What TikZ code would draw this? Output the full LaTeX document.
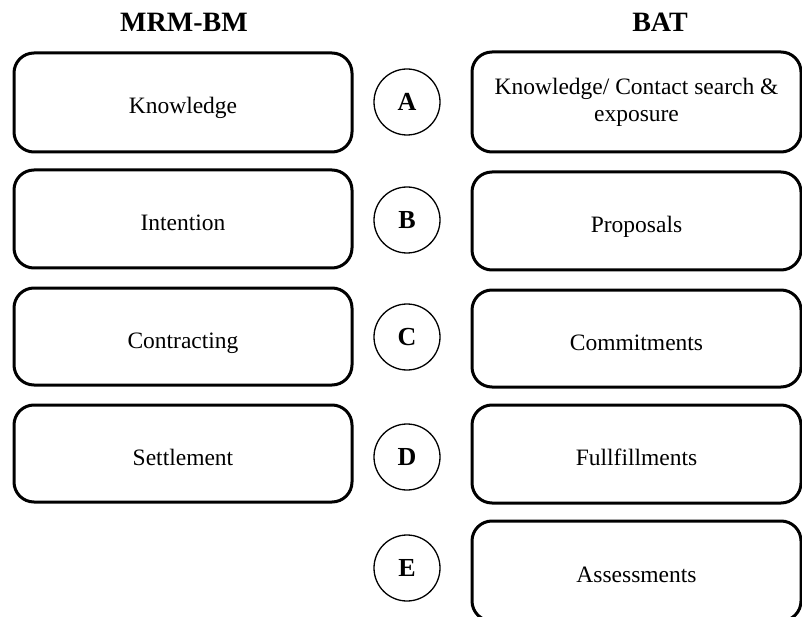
\documentclass[tikz,border=0pt]{standalone}
\usepackage{fontspec}
\setmainfont{Liberation Serif}
\begin{document}
\begin{tikzpicture}[x=1pt,y=-1pt,
  stage/.style={draw,line width=3pt,rounded corners=20pt,font=\fontsize{23.5}{27}\selectfont,align=center},
  oneline/.style={text height=23pt,text depth=0pt},
  tag/.style={draw,circle,line width=1.3pt,minimum size=66pt,inner sep=0pt,font=\bfseries\fontsize{26}{30}\selectfont},
  head/.style={font=\bfseries\fontsize{28}{32}\selectfont}]
\useasboundingbox (0,0) rectangle (802,617);
\clip (0,0) rectangle (802,617);
% column headings
\node[head] (hl) at (184,22) {MRM-BM};
\node[head] (hr) at (660,22) {BAT};
% left column: MRM-BM phases
\node[stage,oneline,minimum width=338pt,minimum height=99pt] (k) at (183,102.5) {Knowledge};
\node[stage,oneline,minimum width=338pt,minimum height=98pt] (i) at (183,219) {Intention};
\node[stage,oneline,minimum width=338pt,minimum height=97pt] (c) at (183,336.5) {Contracting};
\node[stage,oneline,minimum width=338pt,minimum height=97pt] (s) at (183,453.5) {Settlement};
% right column: BAT phases
\node[stage,minimum width=329pt,minimum height=100pt] (r1) at (636.5,102) {Knowledge/ Contact search \&\\exposure};
\node[stage,oneline,minimum width=329pt,minimum height=98pt] (r2) at (636.5,221) {Proposals};
\node[stage,oneline,minimum width=329pt,minimum height=97pt] (r3) at (636.5,338.5) {Commitments};
\node[stage,oneline,minimum width=329pt,minimum height=98pt] (r4) at (636.5,454) {Fullfillments};
\node[stage,oneline,minimum width=329pt,minimum height=100pt] (r5) at (636.5,571) {Assessments};
% letter markers between the columns
\node[tag] (a) at (407,102) {A};
\node[tag] (b) at (407,220) {B};
\node[tag] (cc) at (407,337) {C};
\node[tag] (d) at (407,457) {D};
\node[tag] (e) at (407,568) {E};
\end{tikzpicture}
\end{document}
